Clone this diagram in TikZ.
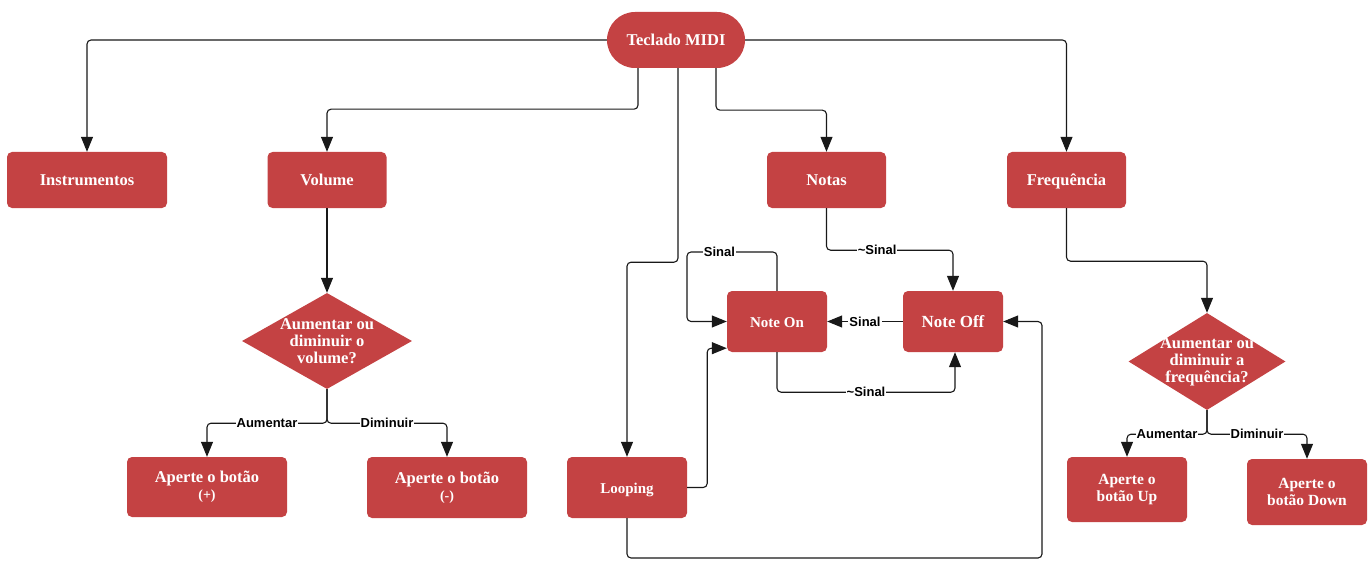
\documentclass[tikz,border=0pt]{standalone}
\usepackage{fontspec}
\setmainfont{Liberation Serif}
\newfontfamily\lblfont{Liberation Sans}
\usetikzlibrary{shapes.geometric,arrows.meta}
\definecolor{boxred}{RGB}{196,66,67}
\begin{document}
\begin{tikzpicture}[x=1pt,y=-1pt,
  box/.style={fill=boxred, rounded corners=5pt, text=white, align=center, inner sep=0pt,
    font=\bfseries\fontsize{16.5}{17}\selectfont},
  sline/.style={text height=13pt, text depth=2pt},
  dia/.style={diamond, aspect=1.77, fill=boxred, text=white, align=center, inner sep=-8pt,
    font=\bfseries\fontsize{16.5}{17}\selectfont},
  conn/.style={draw=black!90, line width=1.1pt, rounded corners=4pt, -{Triangle[length=15pt,width=12pt]}},
  lbl/.style={fill=white, inner sep=1pt, text=black, rounded corners=0pt,
    font=\lblfont\bfseries\fontsize{13}{13}\selectfont}]
\useasboundingbox (0,0) rectangle (1371,575);

% nodes
\node[box, sline, rounded corners=28pt, minimum width=138pt, minimum height=56pt] (tec) at (676,40) {Teclado MIDI};
\node[box, sline, minimum width=160pt, minimum height=56pt] (inst) at (87,180) {Instrumentos};
\node[box, sline, minimum width=119pt, minimum height=56pt] (vol) at (327,180) {Volume};
\node[box, sline, minimum width=119pt, minimum height=56pt] (notas) at (826.5,180) {Notas};
\node[box, sline, minimum width=119pt, minimum height=56pt] (freq) at (1066.5,180) {Frequência};
\node[dia, minimum width=170pt, minimum height=96pt] (dv) at (327,341) {Aumentar ou\\diminuir o\\volume?};
\node[box, minimum width=160pt, minimum height=60pt] (bplus) at (207,487) {Aperte o botão\\{\fontsize{14}{17}\selectfont(+)}};
\node[box, minimum width=160pt, minimum height=61pt] (bminus) at (447,487.5) {Aperte o botão\\{\fontsize{14}{17}\selectfont(-)}};
\node[box, sline, minimum width=100pt, minimum height=61pt, font=\bfseries\fontsize{15}{17}\selectfont] (non) at (777,321.5) {Note On};
\node[box, sline, minimum width=100pt, minimum height=61pt, font=\bfseries\fontsize{17}{17}\selectfont] (noff) at (953,321.5) {Note Off};
\node[box, sline, minimum width=120pt, minimum height=61pt, font=\bfseries\fontsize{15}{17}\selectfont] (loop) at (627,487.5) {Looping};
\node[dia, minimum width=157pt, minimum height=97pt] (df) at (1207,361.5) {Aumentar ou\\diminuir a\\frequência?};
\node[box, minimum width=120pt, minimum height=65pt, font=\bfseries\fontsize{15.5}{17}\selectfont] (bup) at (1127,489.5) {Aperte o\\botão Up};
\node[box, minimum width=120pt, minimum height=66pt, font=\bfseries\fontsize{15.5}{17}\selectfont] (bdown) at (1307,492) {Aperte o\\botão Down};

\coordinate (c1) at (687,252);
\coordinate (c2) at (1042,558);

% connectors
\draw[conn] (tec.west) -| (inst.north);
\draw[conn] ([xshift=-38pt]tec.south) -- ++(0,41) -| (vol.north);
\draw[conn] ([xshift=2pt]tec.south) -- ++(0,194) -| (loop.north);
\draw[conn] ([xshift=40pt]tec.south) -- ++(0,42) -| (notas.north);
\draw[conn] (tec.east) -| (freq.north);
\draw[conn] (vol.south) -- (dv.north);
\draw[conn] (dv.south) -- ++(0,34) -| node[lbl,pos=0.25]{Aumentar} (bplus.north);
\draw[conn] (dv.south) -- ++(0,34) -| node[lbl,pos=0.25]{Diminuir} (bminus.north);
\draw[conn] (freq.south) -- ++(0,53) -| (df.north);
\draw[conn] (df.south) -- ++(0,24) -| node[lbl,pos=0.25]{Aumentar} (bup.north);
\draw[conn] (df.south) -- ++(0,24) -| node[lbl,pos=0.25]{Diminuir} (bdown.north);
\draw[conn] (notas.south) -- ++(0,42) -| node[lbl,pos=0.2]{\textasciitilde Sinal} (noff.north);
\draw[conn] (non.north) |- node[lbl,pos=0.82]{Sinal} (c1) |- (non.west);
\draw[conn] (noff.west) -- node[lbl]{Sinal} (non.east);
\draw[conn] (non.south) -- ++(0,40) -| node[lbl,pos=0.25]{\textasciitilde Sinal} ([xshift=2pt]noff.south);
\draw[conn] (loop.east) -- ++(20,0) |- ([yshift=4pt]non.south west);
\draw[conn] (loop.south) |- (c2) |- (noff.east);
\end{tikzpicture}
\end{document}
